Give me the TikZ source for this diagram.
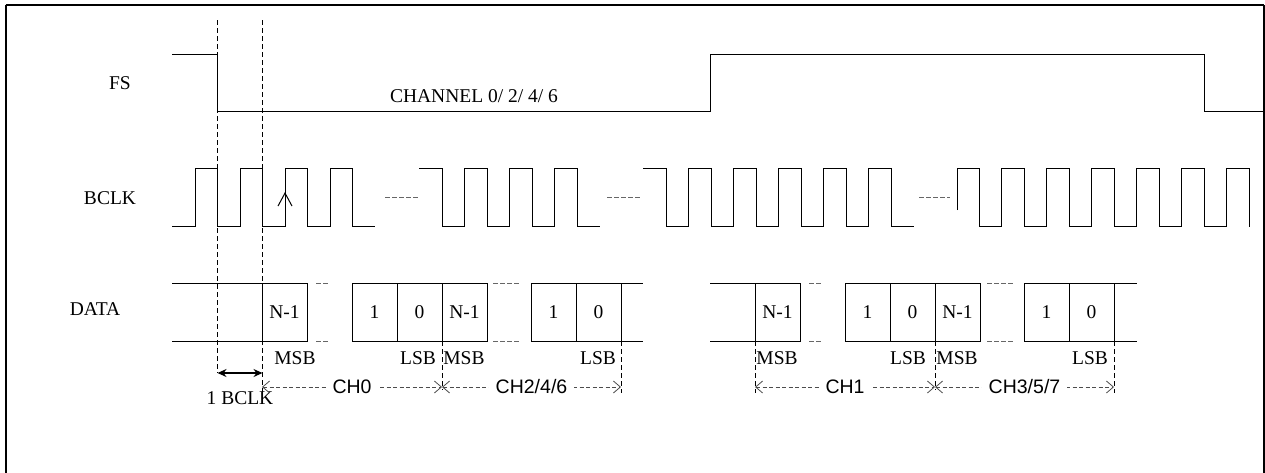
\documentclass[tikz,border=0pt]{standalone}
\usepackage{fontspec}
\setmainfont{Liberation Serif}
\setsansfont{Liberation Sans}
\usetikzlibrary{arrows.meta, positioning}

\begin{document}
\begin{tikzpicture}[x=1pt, y=-1pt]
    \tikzset{wave/.style={line width=1pt}}
    \tikzset{sig/.style={inner sep=0pt, font=\fontsize{19.5}{22}\selectfont}}
    \tikzset{cell/.style={rectangle, draw, line width=1pt, minimum width=45pt, minimum height=58pt, inner sep=0pt, outer sep=0pt, font=\fontsize{19.5}{22}\selectfont}}
    \tikzset{guide/.style={line width=0.9pt, dash pattern=on 5pt off 3pt}}
    \tikzset{gap/.style={line width=0.9pt, black!60, dash pattern=on 4.5pt off 2.5pt}}
    \tikzset{chan/.style={line width=0.8pt, black!70, dash pattern=on 4pt off 2.5pt, {Straight Barb[length=7pt,width=12pt]}-{Straight Barb[length=7pt,width=12pt]}}}
    \tikzset{chlabel/.style={inner sep=0pt, inner xsep=7pt, fill=white, text=black, font=\sffamily\fontsize{19.5}{22}\selectfont}}
    \useasboundingbox (0,0) rectangle (1265,472);
    \draw[line width=2pt] (5.5,5) -- (5.5,490) (5.5,5) -- (1264,5);
    \draw[line width=1.2pt] (1264,5) -- (1264,490);

    \node[sig] (fs) at (120,83) {FS};
    \node[sig] (bclk) at (110,198) {BCLK};
    \node[sig] (data) at (95,309) {DATA};
    \node[sig] (chan) at (474,96) {CHANNEL 0/ 2/ 4/ 6};

    % frame sync
    \draw[wave] (172,54) -- (217.5,54) -- (217.5,111.5) -- (710,111.5) -- (710,54) -- (1204,54) -- (1204,111.5) -- (1264,111.5);

    % bit clock
    \draw[wave] (172,226.5) -- (195,226.5)
        foreach \i in {1,...,4} { -- ++(0,-58.5) -- ++(22.5,0) -- ++(0,58.5) -- ++(22.5,0) };
    \draw[wave] (419,168) -- (442,168) -- (442,226.5) -- (464.5,226.5)
        foreach \i in {1,...,3} { -- ++(0,-58.5) -- ++(22.5,0) -- ++(0,58.5) -- ++(22.5,0) };
    \draw[wave] (643,168) -- (666,168) -- (666,226.5) -- (688.5,226.5)
        foreach \i in {1,...,5} { -- ++(0,-58.5) -- ++(22.5,0) -- ++(0,58.5) -- ++(22.5,0) };
    \draw[wave] (957,210) -- (957,168) -- (979,168) -- (979,226.5) -- (1001.5,226.5)
        foreach \i in {1,...,5} { -- ++(0,-58.5) -- ++(22.5,0) -- ++(0,58.5) -- ++(22.5,0) }
        -- ++(0,-58.5) -- ++(22.5,0) -- ++(0,58.5);
    \draw[gap] (385,197) -- (419,197) (607,197) -- (640,197) (919,197) -- (950,197);
    \draw[wave, -{Straight Barb[length=13pt,width=14pt]}] (285,226.5) -- (285,192);

    % data slots
    \draw[wave] (172,283) -- (262,283) (172,341) -- (262,341);
    \node[cell, anchor=west] (n1) at (262,312) {N-1};
    \draw[gap] (316,283) -- (328,283) (316,341) -- (328,341);
    \node[cell, anchor=west] (b1) at (352,312) {1};
    \node[cell, right=0pt of b1] (b0) {0};
    \node[cell, right=0pt of b0] (n2) {N-1};
    \draw[gap] (493,283) -- (520,283) (493,341) -- (520,341);
    \node[cell, anchor=west] (c1) at (531,312) {1};
    \node[cell, right=0pt of c1] (c0) {0};
    \draw[wave] (c0.north east) -- (643,283) (c0.south east) -- (643,341);

    \draw[wave] (710,283) -- (755,283) (710,341) -- (755,341);
    \node[cell, anchor=west] (n3) at (755,312) {N-1};
    \draw[gap] (809,283) -- (822,283) (809,341) -- (822,341);
    \node[cell, anchor=west] (d1) at (845,312) {1};
    \node[cell, right=0pt of d1] (d0) {0};
    \node[cell, right=0pt of d0] (n4) {N-1};
    \draw[gap] (987,283) -- (1013,283) (987,341) -- (1013,341);
    \node[cell, anchor=west] (e1) at (1024,312) {1};
    \node[cell, right=0pt of e1] (e0) {0};
    \draw[wave] (e0.north east) -- (1137,283) (e0.south east) -- (1137,341);

    \node[sig] (msb1) at (295,358) {MSB};
    \node[sig] (lsb1) at (418,358) {LSB};
    \node[sig] (msb2) at (464,358) {MSB};
    \node[sig] (lsb2) at (598,358) {LSB};
    \node[sig] (msb3) at (777,358) {MSB};
    \node[sig] (lsb3) at (908,358) {LSB};
    \node[sig] (msb4) at (957,358) {MSB};
    \node[sig] (lsb4) at (1090,358) {LSB};

    % guides
    \draw[guide] (217.5,20) -- (217.5,373);
    \draw[guide] (262.5,20) -- (262.5,392);
    \draw[guide] (n2.south west) -- ++(0,49);
    \draw[guide] (c0.south east) -- ++(0,52);
    \draw[guide] (n3.south west) -- ++(0,52);
    \draw[guide] (n4.south west) -- ++(0,49);
    \draw[guide] (e0.south east) -- ++(0,52);

    \draw[line width=1.3pt, {Stealth[length=9pt,width=8pt]}-{Stealth[length=9pt,width=8pt]}] (217.5,373) -- (262.5,373);
    \node[sig] (one) at (240,398) {1 BCLK};

    \draw[chan] ([yshift=-46pt]n1.south west) -- ([yshift=-46pt]n2.south west) node[midway, chlabel] {CH0};
    \draw[chan] ([yshift=-46pt]n2.south west) -- ([yshift=-46pt]c0.south east) node[midway, chlabel] {CH2/4/6};
    \draw[chan] ([yshift=-46pt]n3.south west) -- ([yshift=-46pt]n4.south west) node[midway, chlabel] {CH1};
    \draw[chan] ([yshift=-46pt]n4.south west) -- ([yshift=-46pt]e0.south east) node[midway, chlabel] {CH3/5/7};
\end{tikzpicture}
\end{document}
